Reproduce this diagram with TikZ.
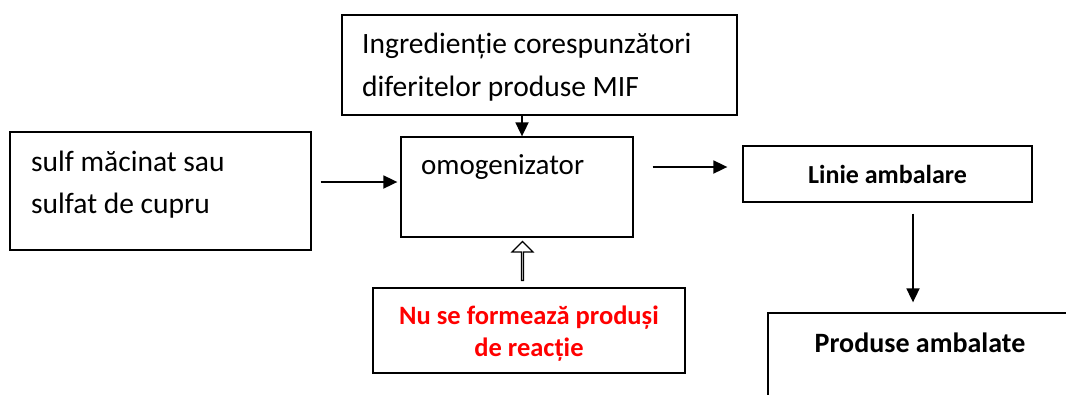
\documentclass[tikz,border=0pt]{standalone}
\usepackage{fontspec}
\setmainfont{Carlito}
\usetikzlibrary{arrows.meta,shapes.arrows}
\begin{document}
\begin{tikzpicture}[x=1pt,y=-1pt,
  box/.style={draw=black,line width=1.3pt,inner sep=0pt},
  arr/.style={line width=1.8pt,-{Triangle[length=14pt,width=13pt]}},
  txt/.style={inner sep=0pt,anchor=west,align=left}]
\clip (0,0) rectangle (1066,394);
\fill[white] (0,0) rectangle (1066,394);
% boxes
\node[box,minimum width=395pt,minimum height=100pt] (top) at (539.5,65) {};
\node[box,minimum width=301pt,minimum height=118pt] (left) at (160.5,191) {};
\node[box,minimum width=232pt,minimum height=100pt] (omog) at (517,187) {};
\node[box,minimum width=289pt,minimum height=56pt,font=\fontsize{26}{30}\selectfont\bfseries] (linie) at (887.5,174) {Linie ambalare};
\node[box,minimum width=312pt,minimum height=85pt] (red) at (529,330.5) {};
\node[box,minimum width=332pt,minimum height=117pt] (prod) at (934,371.5) {};
% texts
\node[txt,font=\fontsize{29.5}{43}\selectfont] (toptxt) at (362,67) {Ingredienție corespunzători\\diferitelor produse MIF};
\node[txt,font=\fontsize{29.5}{42}\selectfont] (lefttxt) at (31,185) {sulf măcinat sau\\sulfat de cupru};
\node[txt,font=\fontsize{29}{34}\selectfont] (omogtxt) at (421,167) {omogenizator};
\node[inner sep=0pt,align=center,text=red,font=\fontsize{26.5}{32}\selectfont\bfseries] (redtxt) at (529,334) {Nu se formează produși\\de reacție};
\node[inner sep=0pt,font=\fontsize{28}{32}\selectfont\bfseries] (prodtxt) at (920,343) {Produse ambalate};
% hollow up arrow
\node[single arrow,draw=black,line width=1.2pt,fill=white,shape border rotate=90,
  minimum height=39pt,minimum width=21pt,single arrow head extend=5.5pt,
  single arrow head indent=0pt,inner sep=0pt,single arrow tip angle=90] (up) at (522.5,261.5) {};
% arrows
\draw[arr] ([xshift=-17.5pt]top.south) -- ([xshift=5pt]omog.north);
\draw[arr] ([xshift=9pt,yshift=9pt]left.east) -- ([xshift=-3pt,yshift=5pt]omog.west);
\draw[arr] ([xshift=19pt,yshift=20pt]omog.east) -- ([xshift=-15pt,yshift=7pt]linie.west);
\draw[arr] ([xshift=25.5pt,yshift=-11pt]linie.south) -- ([xshift=-21pt,yshift=10pt]prod.north);
\end{tikzpicture}
\end{document}
